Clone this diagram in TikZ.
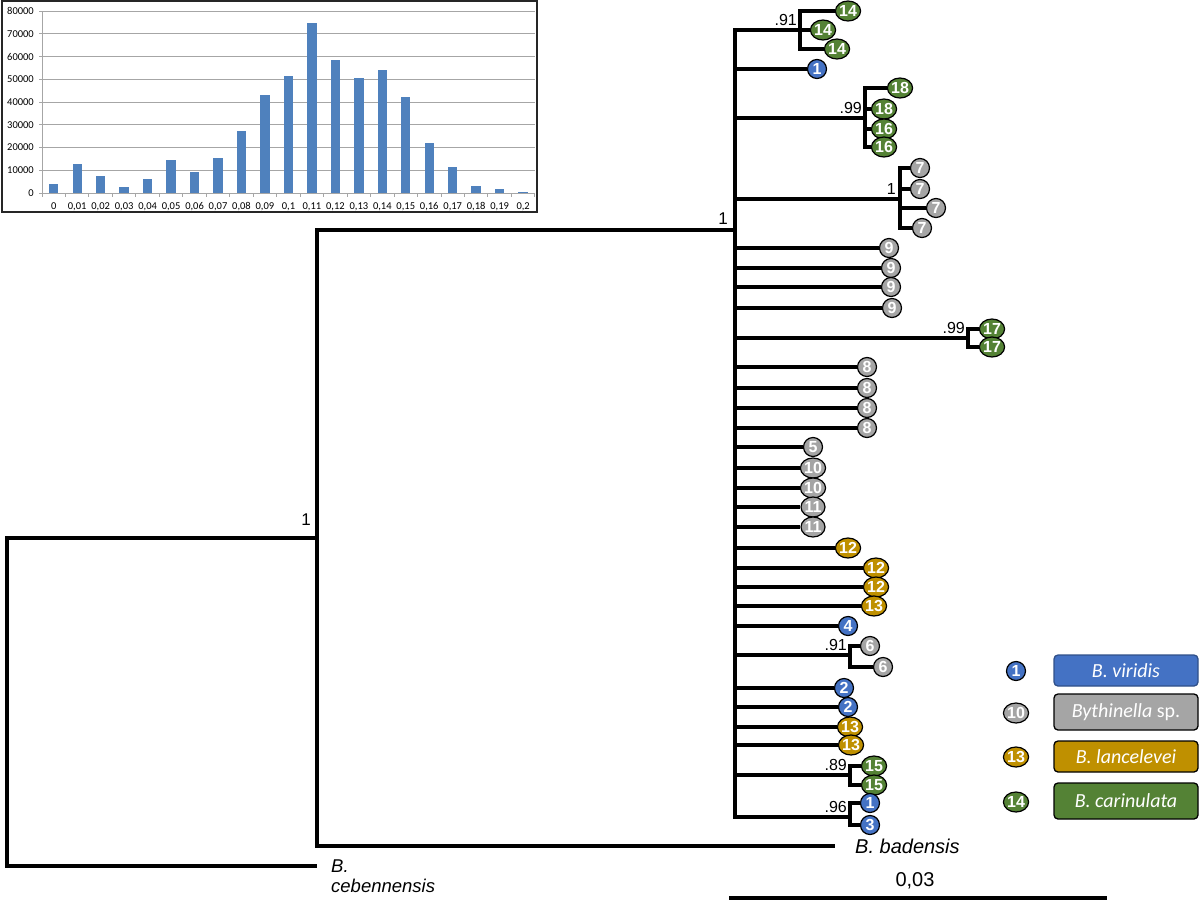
\documentclass[tikz,border=0pt]{standalone}
\usepackage{fontspec}
\setmainfont{Liberation Sans}
\newfontfamily\carlito{Carlito}
\usetikzlibrary{shapes.geometric}
\definecolor{tblue}{HTML}{4472C4}
\definecolor{tgray}{HTML}{A5A5A5}
\definecolor{tgold}{HTML}{BF9000}
\definecolor{tgreen}{HTML}{548235}
\definecolor{barblue}{HTML}{4F81BD}
\definecolor{gridgray}{HTML}{A6A6A6}
\pgfdeclarelayer{bg}
\pgfsetlayers{bg,main}
\begin{document}
\begin{tikzpicture}[x=1pt,y=-1pt,
  branch/.style={line width=3.4pt, line join=miter},
  tipA/.style={ellipse, draw=black, line width=1.2pt, inner sep=0pt, minimum width=19pt, minimum height=19pt, text=white, font=\fontsize{16}{16}\selectfont\bfseries},
  tipB/.style={tipA, minimum width=24pt, minimum height=20pt},
  supp/.style={anchor=south east, inner sep=0pt, font=\fontsize{16}{16}\selectfont},
  suppbig/.style={anchor=south east, inner sep=0pt, font=\fontsize{17}{17}\selectfont},
  legbox/.style={rectangle, rounded corners=4pt, line width=1.3pt, draw=black, minimum width=144pt, text=white, font=\carlito\itshape\fontsize{20}{20}\selectfont},
  histlab/.style={font=\carlito\fontsize{10.5}{10.5}\selectfont, inner sep=0pt},
  taxon/.style={font=\itshape\fontsize{20}{22}\selectfont, inner ysep=0pt}
]
\useasboundingbox (0,0) rectangle (1200,903);

% ---------------- histogram ----------------
\foreach \v in {1,...,8}
  \draw[gridgray, line width=0.9pt] (42,{193-22.75*\v}) -- (535,{193-22.75*\v});
\draw[gridgray, line width=0.9pt] (42,11) -- (42,193) -- (535,193);
\foreach \v in {0,...,8}
  \draw[gridgray, line width=0.9pt] (39,{193-22.75*\v}) -- (42,{193-22.75*\v});
\foreach \k in {0,...,21}
  \draw[gridgray, line width=0.9pt] ({42+23.47*\k},193) -- ({42+23.47*\k},196.5);
\foreach \v/\t in {0/0,1/10000,2/20000,3/30000,4/40000,5/50000,6/60000,7/70000,8/80000}
  \node[histlab, anchor=east] at (34,{193-22.75*\v}) {\t};
\foreach \i/\h in {0/3.8,1/12.6,2/7.3,3/2.5,4/6.0,5/14.3,6/9.3,7/15.6,8/27.3,9/43.0,10/51.5,11/74.6,12/58.4,13/50.7,14/54.0,15/42.4,16/22.0,17/11.6,18/2.9,19/1.6,20/0.4}
  \fill[barblue] ({42+23.47*(\i+0.5)-4.7},193) rectangle ++(9.4,{-\h*2.275});
\foreach \i/\t in {0/0,1/{0,01},2/{0,02},3/{0,03},4/{0,04},5/{0,05},6/{0,06},7/{0,07},8/{0,08},9/{0,09},10/{0,1},11/{0,11},12/{0,12},13/{0,13},14/{0,14},15/{0,15},16/{0,16},17/{0,17},18/{0,18},19/{0,19},20/{0,2}}
  \node[histlab] at ({42+23.47*(\i+0.5)},206.5) {\t};
\draw[black!85, line width=1.4pt] (2,1) rectangle (537,212);

% ---------------- tree: internal nodes ----------------
\coordinate (R) at (7,702);
\coordinate (A) at (317,538);
\coordinate (B) at (735,230);
\coordinate (C1) at (800,30);
\coordinate (C2) at (865,118);
\coordinate (C3) at (900,199);
\coordinate (C4) at (968,338);
\coordinate (C5) at (850,655);
\coordinate (C6) at (850,775);
\coordinate (C7) at (850,817);

% outgroup labels
\node[taxon, anchor=west, inner xsep=20pt] (bad) at (835,846) {B. badensis};
\node[taxon, anchor=west, inner xsep=14pt, font=\itshape\fontsize{18.5}{20}\selectfont] (ceb) at (317,866) {B.};
\node[taxon, anchor=north west, inner xsep=14pt, font=\itshape\fontsize{18.5}{20}\selectfont] (cebb) at ([yshift=-6pt]ceb.south west) {cebennensis};

% tips
\node[tipB,fill=tgreen] (t1) at (848,11) {14};
\node[tipB,fill=tgreen] (t2) at (823,30) {14};
\node[tipB,fill=tgreen] (t3) at (837,49) {14};
\node[tipA,fill=tblue] (t4) at (817,69) {1};
\node[tipB,fill=tgreen] (t5) at (900,88) {18};
\node[tipB,fill=tgreen] (t6) at (884,109) {18};
\node[tipB,fill=tgreen] (t7) at (884,129) {16};
\node[tipB,fill=tgreen] (t8) at (884,147) {16};
\node[tipA,fill=tgray] (t9) at (920,168) {7};
\node[tipA,fill=tgray] (t10) at (920,189) {7};
\node[tipA,fill=tgray] (t11) at (936,208) {7};
\node[tipA,fill=tgray] (t12) at (922,228) {7};
\node[tipA,fill=tgray] (t13) at (889,248) {9};
\node[tipA,fill=tgray] (t14) at (891,268) {9};
\node[tipA,fill=tgray] (t15) at (891,287) {9};
\node[tipA,fill=tgray] (t16) at (892,308) {9};
\node[tipB,fill=tgreen] (t17) at (992,329) {17};
\node[tipB,fill=tgreen] (t18) at (992,347) {17};
\node[tipA,fill=tgray] (t19) at (867,367) {8};
\node[tipA,fill=tgray] (t20) at (867,388) {8};
\node[tipA,fill=tgray] (t21) at (867,408) {8};
\node[tipA,fill=tgray] (t22) at (867,428) {8};
\node[tipA,fill=tgray] (t23) at (813,447) {5};
\node[tipB,fill=tgray] (t24) at (813,468) {10};
\node[tipB,fill=tgray] (t25) at (813,488) {10};
\node[tipB,fill=tgray] (t26) at (813,507) {11};
\node[tipB,fill=tgray] (t27) at (813,527) {11};
\node[tipB,fill=tgold] (t28) at (848,548) {12};
\node[tipB,fill=tgold] (t29) at (876,568) {12};
\node[tipB,fill=tgold] (t30) at (876,587) {12};
\node[tipB,fill=tgold] (t31) at (874,606) {13};
\node[tipA,fill=tblue] (t32) at (848,626) {4};
\node[tipA,fill=tgray] (t33) at (870,646) {6};
\node[tipA,fill=tgray] (t34) at (883,667) {6};
\node[tipA,fill=tblue] (t35) at (844,688) {2};
\node[tipA,fill=tblue] (t36) at (848,707) {2};
\node[tipB,fill=tgold] (t37) at (850,727) {13};
\node[tipB,fill=tgold] (t38) at (851,745) {13};
\node[tipB,fill=tgreen] (t39) at (874,766) {15};
\node[tipB,fill=tgreen] (t40) at (874,785) {15};
\node[tipA,fill=tblue] (t41) at (870,803) {1};
\node[tipA,fill=tblue] (t42) at (870,825) {3};

% branches
\begin{pgfonlayer}{bg}
\draw[branch] (A) -| (R) |- (ceb.west);
\draw[branch] (B) -| (A) |- (bad.west);
\foreach \c in {C1,t4,C2,C3,t13,t14,t15,t16,C4,t19,t20,t21,t22,t23,t24,t25,t26,t27,t28,t29,t30,t31,t32,C5,t35,t36,t37,t38,C6,C7}
  \draw[branch] (B) |- (\c);
\foreach \c in {t1,t2,t3} \draw[branch] (C1) |- (\c);
\foreach \c in {t5,t6,t7,t8} \draw[branch] (C2) |- (\c);
\foreach \c in {t9,t10,t11,t12} \draw[branch] (C3) |- (\c);
\foreach \c in {t17,t18} \draw[branch] (C4) |- (\c);
\foreach \c in {t33,t34} \draw[branch] (C5) |- (\c);
\foreach \c in {t39,t40} \draw[branch] (C6) |- (\c);
\foreach \c in {t41,t42} \draw[branch] (C7) |- (\c);
\end{pgfonlayer}

% support values
\node[suppbig] (sA) at (311,526) {1};
\node[suppbig] (sB) at (728,225) {1};
\node[supp] (s1) at (797,26) {.91};
\node[supp] (s2) at (862,114) {.99};
\node[supp] (s3) at (896,195) {1};
\node[supp] (s4) at (965,334) {.99};
\node[supp] (s5) at (847,651) {.91};
\node[supp] (s6) at (847,771) {.89};
\node[supp] (s7) at (847,813) {.96};

% legend
\node[tipA, fill=tblue] (l1) at (1016,671) {1};
\node[tipB, fill=tgray] (l2) at (1016,713) {10};
\node[tipB, fill=tgold] (l3) at (1016,757) {13};
\node[tipB, fill=tgreen] (l4) at (1016,802) {14};
\node[legbox, fill=tblue, draw=tblue!70!black, minimum height=31pt] (b1) at (1126,670.5) {B. viridis};
\node[legbox, fill=tgray, minimum height=36pt] (b2) at (1126,712) {Bythinella\/ {\upshape sp.}};
\node[legbox, fill=tgold, minimum height=31pt] (b3) at (1126,756.5) {B. lancelevei};
\node[legbox, fill=tgreen, minimum height=36pt] (b4) at (1126,801) {B. carinulata};

% scale bar
\coordinate (sb1) at (729,898);
\coordinate (sb2) at (1107,898);
\draw[line width=4pt] (sb1) -- (sb2);
\node[font=\fontsize{20}{20}\selectfont, inner sep=0pt] (sbl) at (915,881) {0,03};
\end{tikzpicture}
\end{document}
